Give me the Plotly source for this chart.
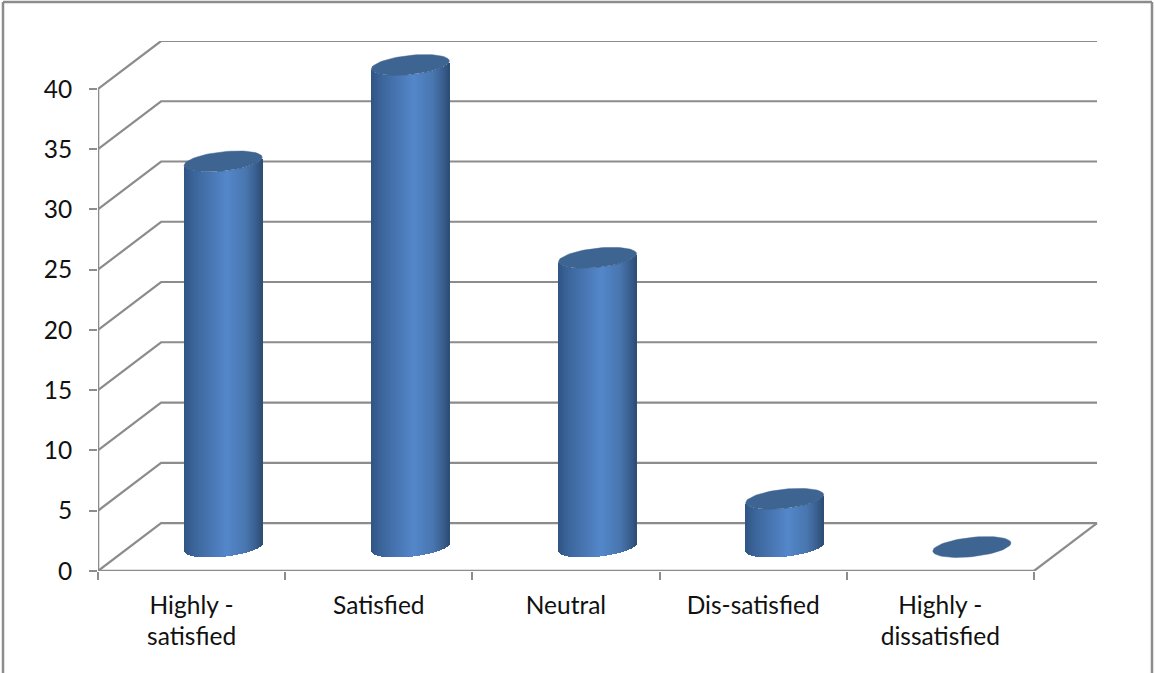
import math
import plotly.graph_objects as go

# Survey responses per satisfaction level
CATEGORIES = ["Highly -<br>satisfied", "Satisfied", "Neutral", "Dis-satisfied", "Highly -<br>dissatisfied"]
VALUES = [32, 40, 24, 4, 0]
Y_TICKS = [0, 5, 10, 15, 20, 25, 30, 35, 40]
X_TICKS = [0, 1, 2, 3, 4, 5]

# Oblique projection of the depth axis, in axis units
DEPTH_X = 0.337
DEPTH_Y = 3.98
X_MAX = 5 + DEPTH_X + 0.016
Y_MAX = 43.98

# Cylinder proportions, in axis units
RADIUS_X = 0.2085
RADIUS_Y = 0.80
TILT = 0.33
STRIPS = 78

GREY = "#8c8c8c"
CAP = "#3e6591"
SHADE_STOPS = [(0.0, (47, 84, 131)), (0.12, (58, 100, 153)), (0.35, (73, 119, 180)),
               (0.55, (83, 135, 202)), (0.8, (72, 117, 174)), (0.92, (58, 95, 144)), (1.0, (44, 76, 116))]


def shade(t):
    for (t0, c0), (t1, c1) in zip(SHADE_STOPS, SHADE_STOPS[1:]):
        if t <= t1:
            f = (t - t0) / (t1 - t0)
            r, g, b = (round(a + (b_ - a) * f) for a, b_ in zip(c0, c1))
            return f"rgb({r},{g},{b})"
    return "rgb(44,76,116)"


def unit_circle(n=72):
    return [(math.cos(2 * math.pi * k / n), math.sin(2 * math.pi * k / n)) for k in range(n + 1)]


fig = go.Figure()

# Walls and floor: each gridline runs from the front axis back along the depth, then across
grid_x, grid_y = [], []
for v in Y_TICKS:
    grid_x += [0, DEPTH_X, 5 + DEPTH_X, None]
    grid_y += [v, v + DEPTH_Y, v + DEPTH_Y, None]
grid_x += [5, 5 + DEPTH_X]
grid_y += [0, DEPTH_Y]
fig.add_trace(go.Scatter(x=grid_x, y=grid_y, mode="lines", line=dict(color=GREY, width=2.2),
                         cliponaxis=False, hoverinfo="skip", showlegend=False))

# Front axis lines
fig.add_trace(go.Scatter(x=[0, 0, None, 0, 5], y=[0, Y_TICKS[-1], None, 0, 0], mode="lines",
                         line=dict(color=GREY, width=2.6), cliponaxis=False,
                         hoverinfo="skip", showlegend=False))

# Cylinder bodies: vertical strips whose ends follow the elliptical base and top
strip_x, strip_base, strip_h, strip_c = [], [], [], []
for i, value in enumerate(VALUES):
    centre = i + 0.5 + DEPTH_X / 2
    for s in range(STRIPS):
        t = (s + 0.5) / STRIPS
        u = 2 * t - 1
        lower_edge = TILT * u - RADIUS_Y * (1 - u * u) ** 0.5
        strip_x.append(centre + u * RADIUS_X)
        strip_base.append(DEPTH_Y / 2 + lower_edge)
        strip_h.append(value)
        strip_c.append(shade(t))
strip_width = 2 * RADIUS_X / STRIPS
fig.add_trace(go.Bar(x=strip_x, y=strip_h, base=strip_base, width=strip_width * 1.15,
                     marker=dict(color=strip_c, line=dict(width=0)), xaxis="x2", yaxis="y2",
                     hoverinfo="skip", showlegend=False))

# Cylinder top caps
for i, value in enumerate(VALUES):
    centre = i + 0.5 + DEPTH_X / 2
    level = value + DEPTH_Y / 2
    pts = unit_circle()
    fig.add_trace(go.Scatter(
        x=[centre + RADIUS_X * c for c, _ in pts],
        y=[level + RADIUS_Y * s + TILT * c for c, s in pts],
        mode="lines", fill="toself", fillcolor=CAP, line=dict(color=CAP, width=0.5),
        xaxis="x2", yaxis="y2", hoverinfo="skip", showlegend=False))

FONT = dict(family="Lato, Carlito, sans-serif", size=24.5, color="#111111")

fig.update_layout(
    width=1155, height=673, autosize=False,
    margin=dict(l=98, r=55, t=41, b=102, pad=0),
    paper_bgcolor="white", plot_bgcolor="white",
    barmode="overlay", bargap=0, showlegend=False,
    font=FONT,
    xaxis=dict(range=[0, X_MAX], showgrid=False, zeroline=False, showline=False,
               tickmode="array", tickvals=[i + 0.5 for i in range(len(CATEGORIES))],
               ticktext=CATEGORIES, ticks="", tickfont=FONT, tickangle=0, ticklabelstandoff=17,
               minor=dict(tickmode="array", tickvals=X_TICKS, ticks="outside", ticklen=8,
                          tickwidth=2, tickcolor=GREY, showgrid=False)),
    yaxis=dict(range=[0, Y_MAX], showgrid=False, zeroline=False, showline=False,
               tickmode="array", tickvals=Y_TICKS, ticks="outside", ticklen=8, tickwidth=2,
               tickcolor=GREY, tickfont=FONT, ticklabelstandoff=12),
    xaxis2=dict(range=[0, X_MAX], overlaying="x", visible=False),
    yaxis2=dict(range=[0, Y_MAX], overlaying="y", visible=False),
    # Outer chart border, open along the bottom edge
    shapes=[
        dict(type="line", xref="paper", yref="paper",
             x0=-95 / 1002, x1=1054 / 1002, y0=(571 - 2) / 530, y1=(571 - 2) / 530,
             line=dict(color=GREY, width=2.5)),
        dict(type="line", xref="paper", yref="paper",
             x0=-95 / 1002, x1=-95 / 1002, y0=(571 - 2) / 530, y1=-102 / 530,
             line=dict(color=GREY, width=2.5)),
        dict(type="line", xref="paper", yref="paper",
             x0=1054 / 1002, x1=1054 / 1002, y0=(571 - 2) / 530, y1=-102 / 530,
             line=dict(color=GREY, width=2.5)),
    ],
)

fig.write_html("out.html")
